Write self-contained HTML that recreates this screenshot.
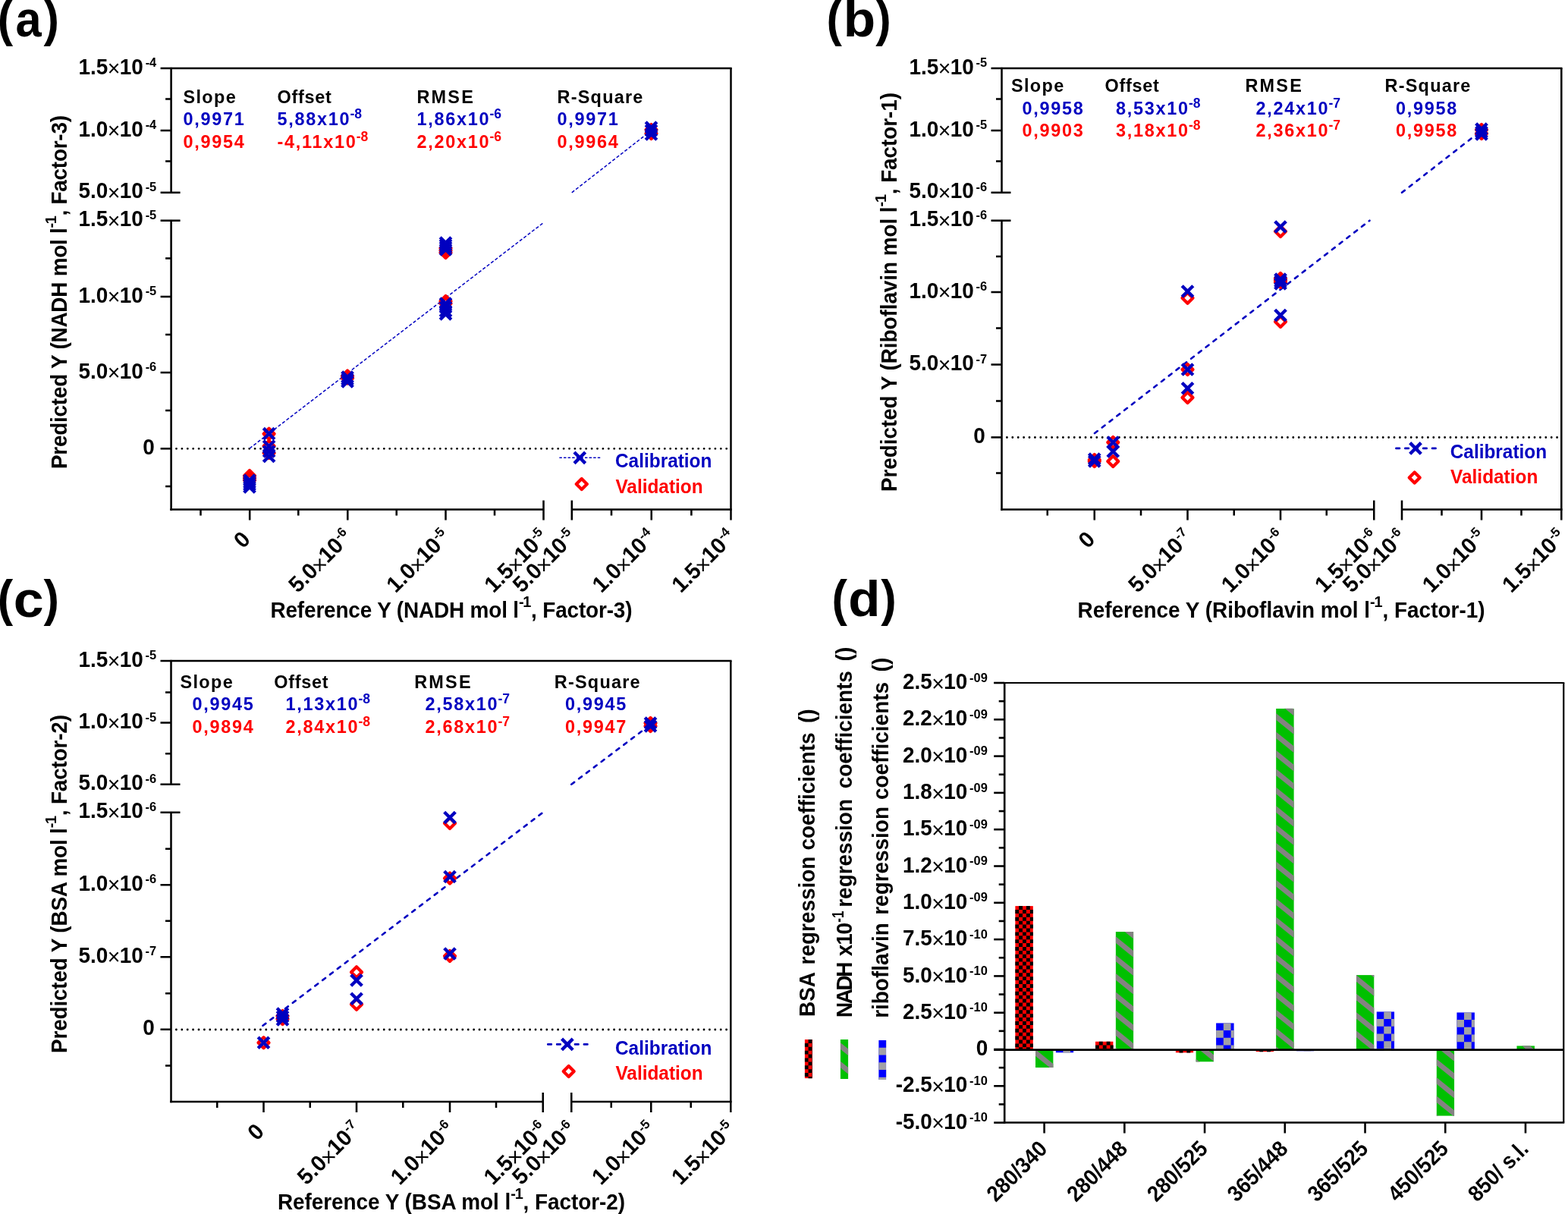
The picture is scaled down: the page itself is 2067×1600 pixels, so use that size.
<!DOCTYPE html><html><head><meta charset="utf-8"><title>PLS regression figure</title><style>html,body{margin:0;padding:0;background:#fff}svg{display:block}text{font-family:'Liberation Sans', Arial, sans-serif;font-weight:bold}</style></head><body>
<svg width="2067" height="1600" viewBox="0 0 2067 1600">
<rect width="2067" height="1600" fill="#fff"/>
<line x1="225.60" y1="672.77" x2="225.60" y2="290.70" stroke="#000" stroke-width="2.55" />
<line x1="225.60" y1="253.80" x2="225.60" y2="88.85" stroke="#000" stroke-width="2.55" />
<line x1="224.32" y1="671.50" x2="716.50" y2="671.50" stroke="#000" stroke-width="2.55" />
<line x1="753.80" y1="671.50" x2="964.75" y2="671.50" stroke="#000" stroke-width="2.55" />
<line x1="211.60" y1="90.10" x2="964.75" y2="90.10" stroke="#000" stroke-width="2.5" />
<line x1="963.50" y1="90.10" x2="963.50" y2="685.50" stroke="#000" stroke-width="2.5" />
<line x1="211.60" y1="290.70" x2="237.60" y2="290.70" stroke="#000" stroke-width="2.55" />
<line x1="211.60" y1="253.80" x2="237.60" y2="253.80" stroke="#000" stroke-width="2.55" />
<line x1="716.50" y1="659.50" x2="716.50" y2="685.50" stroke="#000" stroke-width="2.55" />
<line x1="753.80" y1="659.50" x2="753.80" y2="685.50" stroke="#000" stroke-width="2.55" />
<line x1="211.60" y1="172.00" x2="225.60" y2="172.00" stroke="#000" stroke-width="2.55" />
<line x1="211.60" y1="391.00" x2="225.60" y2="391.00" stroke="#000" stroke-width="2.55" />
<line x1="211.60" y1="491.00" x2="225.60" y2="491.00" stroke="#000" stroke-width="2.55" />
<line x1="211.60" y1="591.30" x2="225.60" y2="591.30" stroke="#000" stroke-width="2.55" />
<line x1="218.10" y1="130.50" x2="225.60" y2="130.50" stroke="#000" stroke-width="2.55" />
<line x1="218.10" y1="212.50" x2="225.60" y2="212.50" stroke="#000" stroke-width="2.55" />
<line x1="218.10" y1="340.50" x2="225.60" y2="340.50" stroke="#000" stroke-width="2.55" />
<line x1="218.10" y1="441.00" x2="225.60" y2="441.00" stroke="#000" stroke-width="2.55" />
<line x1="218.10" y1="541.00" x2="225.60" y2="541.00" stroke="#000" stroke-width="2.55" />
<line x1="218.10" y1="641.00" x2="225.60" y2="641.00" stroke="#000" stroke-width="2.55" />
<line x1="329.20" y1="671.50" x2="329.20" y2="685.50" stroke="#000" stroke-width="2.55" />
<line x1="458.30" y1="671.50" x2="458.30" y2="685.50" stroke="#000" stroke-width="2.55" />
<line x1="587.50" y1="671.50" x2="587.50" y2="685.50" stroke="#000" stroke-width="2.55" />
<line x1="858.75" y1="671.50" x2="858.75" y2="685.50" stroke="#000" stroke-width="2.55" />
<line x1="264.50" y1="671.50" x2="264.50" y2="679.50" stroke="#000" stroke-width="2.55" />
<line x1="393.30" y1="671.50" x2="393.30" y2="679.50" stroke="#000" stroke-width="2.55" />
<line x1="522.70" y1="671.50" x2="522.70" y2="679.50" stroke="#000" stroke-width="2.55" />
<line x1="652.00" y1="671.50" x2="652.00" y2="679.50" stroke="#000" stroke-width="2.55" />
<line x1="806.00" y1="671.50" x2="806.00" y2="679.50" stroke="#000" stroke-width="2.55" />
<line x1="911.40" y1="671.50" x2="911.40" y2="679.50" stroke="#000" stroke-width="2.55" />
<text transform="translate(206.25,97.70) scale(0.95,1)" font-size="29.4" text-anchor="end"><tspan>1.5</tspan><tspan font-weight="normal" font-size="30" dx="-0.6" dy="2.6">×</tspan><tspan dx="-0.6" dy="-2.6">10</tspan><tspan font-size="17.3" dy="-9.5" dx="2.9">-4</tspan></text>
<text transform="translate(206.25,179.60) scale(0.95,1)" font-size="29.4" text-anchor="end"><tspan>1.0</tspan><tspan font-weight="normal" font-size="30" dx="-0.6" dy="2.6">×</tspan><tspan dx="-0.6" dy="-2.6">10</tspan><tspan font-size="17.3" dy="-9.5" dx="2.9">-4</tspan></text>
<text transform="translate(206.25,261.40) scale(0.95,1)" font-size="29.4" text-anchor="end"><tspan>5.0</tspan><tspan font-weight="normal" font-size="30" dx="-0.6" dy="2.6">×</tspan><tspan dx="-0.6" dy="-2.6">10</tspan><tspan font-size="17.3" dy="-9.5" dx="2.9">-5</tspan></text>
<text transform="translate(206.25,298.30) scale(0.95,1)" font-size="29.4" text-anchor="end"><tspan>1.5</tspan><tspan font-weight="normal" font-size="30" dx="-0.6" dy="2.6">×</tspan><tspan dx="-0.6" dy="-2.6">10</tspan><tspan font-size="17.3" dy="-9.5" dx="2.9">-5</tspan></text>
<text transform="translate(206.25,398.60) scale(0.95,1)" font-size="29.4" text-anchor="end"><tspan>1.0</tspan><tspan font-weight="normal" font-size="30" dx="-0.6" dy="2.6">×</tspan><tspan dx="-0.6" dy="-2.6">10</tspan><tspan font-size="17.3" dy="-9.5" dx="2.9">-5</tspan></text>
<text transform="translate(206.25,498.60) scale(0.95,1)" font-size="29.4" text-anchor="end"><tspan>5.0</tspan><tspan font-weight="normal" font-size="30" dx="-0.6" dy="2.6">×</tspan><tspan dx="-0.6" dy="-2.6">10</tspan><tspan font-size="17.3" dy="-9.5" dx="2.9">-6</tspan></text>
<text transform="translate(203.75,598.60) scale(0.95,1)" font-size="29.4" text-anchor="end"><tspan>0</tspan></text>
<text transform="translate(331.70,712.50) rotate(-45) scale(0.985,1)" font-size="29.4" text-anchor="end"><tspan>0</tspan></text>
<text transform="translate(465.50,709.50) rotate(-45) scale(0.985,1)" font-size="29.4" text-anchor="end"><tspan>5.0</tspan><tspan font-weight="normal" font-size="30" dx="-1.5" dy="3.7">×</tspan><tspan dx="-0.5" dy="-3.7">10</tspan><tspan font-size="17.3" dy="-10.6" dx="0.5">-6</tspan></text>
<text transform="translate(594.70,709.50) rotate(-45) scale(0.985,1)" font-size="29.4" text-anchor="end"><tspan>1.0</tspan><tspan font-weight="normal" font-size="30" dx="-1.5" dy="3.7">×</tspan><tspan dx="-0.5" dy="-3.7">10</tspan><tspan font-size="17.3" dy="-10.6" dx="0.5">-5</tspan></text>
<text transform="translate(723.70,709.50) rotate(-45) scale(0.985,1)" font-size="29.4" text-anchor="end"><tspan>1.5</tspan><tspan font-weight="normal" font-size="30" dx="-1.5" dy="3.7">×</tspan><tspan dx="-0.5" dy="-3.7">10</tspan><tspan font-size="17.3" dy="-10.6" dx="0.5">-5</tspan></text>
<text transform="translate(761.00,709.50) rotate(-45) scale(0.985,1)" font-size="29.4" text-anchor="end"><tspan>5.0</tspan><tspan font-weight="normal" font-size="30" dx="-1.5" dy="3.7">×</tspan><tspan dx="-0.5" dy="-3.7">10</tspan><tspan font-size="17.3" dy="-10.6" dx="0.5">-5</tspan></text>
<text transform="translate(865.95,709.50) rotate(-45) scale(0.985,1)" font-size="29.4" text-anchor="end"><tspan>1.0</tspan><tspan font-weight="normal" font-size="30" dx="-1.5" dy="3.7">×</tspan><tspan dx="-0.5" dy="-3.7">10</tspan><tspan font-size="17.3" dy="-10.6" dx="0.5">-4</tspan></text>
<text transform="translate(970.70,709.50) rotate(-45) scale(0.985,1)" font-size="29.4" text-anchor="end"><tspan>1.5</tspan><tspan font-weight="normal" font-size="30" dx="-1.5" dy="3.7">×</tspan><tspan dx="-0.5" dy="-3.7">10</tspan><tspan font-size="17.3" dy="-10.6" dx="0.5">-4</tspan></text>
<line x1="232.50" y1="591.30" x2="960.50" y2="591.30" stroke="#000" stroke-width="2.85" stroke-dasharray="0.01 7.39" stroke-linecap="round"/>
<line x1="329.00" y1="591.00" x2="716.50" y2="293.50" stroke="#0000c0" stroke-width="1.5" stroke-dasharray="4.2 2.6" />
<line x1="753.80" y1="253.80" x2="858.50" y2="172.00" stroke="#0000c0" stroke-width="1.5" stroke-dasharray="4.2 2.6" />
<path d="M329.00 620.00L336.00 627.00L329.00 634.00L322.00 627.00Z" stroke="#ff0000" stroke-width="4.2" fill="none" stroke-linejoin="round"/>
<path d="M329.00 623.00L336.00 630.00L329.00 637.00L322.00 630.00Z" stroke="#ff0000" stroke-width="4.2" fill="none" stroke-linejoin="round"/>
<path d="M329.00 626.00L336.00 633.00L329.00 640.00L322.00 633.00Z" stroke="#ff0000" stroke-width="4.2" fill="none" stroke-linejoin="round"/>
<path d="M354.60 564.70L361.60 571.70L354.60 578.70L347.60 571.70Z" stroke="#ff0000" stroke-width="4.2" fill="none" stroke-linejoin="round"/>
<path d="M354.60 581.00L361.60 588.00L354.60 595.00L347.60 588.00Z" stroke="#ff0000" stroke-width="4.2" fill="none" stroke-linejoin="round"/>
<path d="M354.60 590.00L361.60 597.00L354.60 604.00L347.60 597.00Z" stroke="#ff0000" stroke-width="4.2" fill="none" stroke-linejoin="round"/>
<path d="M458.00 488.50L465.00 495.50L458.00 502.50L451.00 495.50Z" stroke="#ff0000" stroke-width="4.2" fill="none" stroke-linejoin="round"/>
<path d="M458.00 491.50L465.00 498.50L458.00 505.50L451.00 498.50Z" stroke="#ff0000" stroke-width="4.2" fill="none" stroke-linejoin="round"/>
<path d="M587.50 320.00L594.50 327.00L587.50 334.00L580.50 327.00Z" stroke="#ff0000" stroke-width="4.2" fill="none" stroke-linejoin="round"/>
<path d="M587.50 323.00L594.50 330.00L587.50 337.00L580.50 330.00Z" stroke="#ff0000" stroke-width="4.2" fill="none" stroke-linejoin="round"/>
<path d="M587.50 326.00L594.50 333.00L587.50 340.00L580.50 333.00Z" stroke="#ff0000" stroke-width="4.2" fill="none" stroke-linejoin="round"/>
<path d="M587.50 390.00L594.50 397.00L587.50 404.00L580.50 397.00Z" stroke="#ff0000" stroke-width="4.2" fill="none" stroke-linejoin="round"/>
<path d="M587.50 393.00L594.50 400.00L587.50 407.00L580.50 400.00Z" stroke="#ff0000" stroke-width="4.2" fill="none" stroke-linejoin="round"/>
<path d="M858.50 164.00L865.50 171.00L858.50 178.00L851.50 171.00Z" stroke="#ff0000" stroke-width="4.2" fill="none" stroke-linejoin="round"/>
<path d="M858.50 169.00L865.50 176.00L858.50 183.00L851.50 176.00Z" stroke="#ff0000" stroke-width="4.2" fill="none" stroke-linejoin="round"/>
<path d="M321.70 625.70L336.30 640.30M321.70 640.30L336.30 625.70" stroke="#0000c0" stroke-width="4.4" fill="none"/>
<path d="M321.70 628.70L336.30 643.30M321.70 643.30L336.30 628.70" stroke="#0000c0" stroke-width="4.4" fill="none"/>
<path d="M321.70 631.70L336.30 646.30M321.70 646.30L336.30 631.70" stroke="#0000c0" stroke-width="4.4" fill="none"/>
<path d="M321.70 634.70L336.30 649.30M321.70 649.30L336.30 634.70" stroke="#0000c0" stroke-width="4.4" fill="none"/>
<path d="M347.30 564.40L361.90 579.00M347.30 579.00L361.90 564.40" stroke="#0000c0" stroke-width="4.4" fill="none"/>
<path d="M347.30 580.70L361.90 595.30M347.30 595.30L361.90 580.70" stroke="#0000c0" stroke-width="4.4" fill="none"/>
<path d="M347.30 587.70L361.90 602.30M347.30 602.30L361.90 587.70" stroke="#0000c0" stroke-width="4.4" fill="none"/>
<path d="M347.30 594.20L361.90 608.80M347.30 608.80L361.90 594.20" stroke="#0000c0" stroke-width="4.4" fill="none"/>
<path d="M450.70 489.70L465.30 504.30M450.70 504.30L465.30 489.70" stroke="#0000c0" stroke-width="4.4" fill="none"/>
<path d="M450.70 492.70L465.30 507.30M450.70 507.30L465.30 492.70" stroke="#0000c0" stroke-width="4.4" fill="none"/>
<path d="M450.70 495.70L465.30 510.30M450.70 510.30L465.30 495.70" stroke="#0000c0" stroke-width="4.4" fill="none"/>
<path d="M580.20 312.70L594.80 327.30M580.20 327.30L594.80 312.70" stroke="#0000c0" stroke-width="4.4" fill="none"/>
<path d="M580.20 315.70L594.80 330.30M580.20 330.30L594.80 315.70" stroke="#0000c0" stroke-width="4.4" fill="none"/>
<path d="M580.20 318.70L594.80 333.30M580.20 333.30L594.80 318.70" stroke="#0000c0" stroke-width="4.4" fill="none"/>
<path d="M580.20 321.70L594.80 336.30M580.20 336.30L594.80 321.70" stroke="#0000c0" stroke-width="4.4" fill="none"/>
<path d="M580.20 392.70L594.80 407.30M580.20 407.30L594.80 392.70" stroke="#0000c0" stroke-width="4.4" fill="none"/>
<path d="M580.20 397.70L594.80 412.30M580.20 412.30L594.80 397.70" stroke="#0000c0" stroke-width="4.4" fill="none"/>
<path d="M580.20 402.70L594.80 417.30M580.20 417.30L594.80 402.70" stroke="#0000c0" stroke-width="4.4" fill="none"/>
<path d="M580.20 406.70L594.80 421.30M580.20 421.30L594.80 406.70" stroke="#0000c0" stroke-width="4.4" fill="none"/>
<path d="M851.20 160.70L865.80 175.30M851.20 175.30L865.80 160.70" stroke="#0000c0" stroke-width="4.4" fill="none"/>
<path d="M851.20 164.70L865.80 179.30M851.20 179.30L865.80 164.70" stroke="#0000c0" stroke-width="4.4" fill="none"/>
<path d="M851.20 169.70L865.80 184.30M851.20 184.30L865.80 169.70" stroke="#0000c0" stroke-width="4.4" fill="none"/>
<text transform="translate(241.50,135.50) scale(0.95,1)" font-size="24.7" fill="#000" text-anchor="start" letter-spacing="1.4">Slope</text>
<text transform="translate(365.50,135.50) scale(0.95,1)" font-size="24.7" fill="#000" text-anchor="start" letter-spacing="0.75">Offset</text>
<text transform="translate(549.50,135.50) scale(0.95,1)" font-size="24.7" fill="#000" text-anchor="start" letter-spacing="2.3">RMSE</text>
<text transform="translate(734.50,135.50) scale(0.95,1)" font-size="24.7" fill="#000" text-anchor="start" letter-spacing="1.3">R-Square</text>
<text transform="translate(241.50,165.00) scale(0.95,1)" font-size="24.7" fill="#0000c0" text-anchor="start" letter-spacing="1.8">0,9971</text>
<text transform="translate(365.50,165.00) scale(0.95,1)" font-size="24.7" fill="#0000c0" text-anchor="start" letter-spacing="1.8">5,88x10<tspan font-size="18.5" dy="-8.8" dx="-0.8" letter-spacing="0">-8</tspan></text>
<text transform="translate(549.50,165.00) scale(0.95,1)" font-size="24.7" fill="#0000c0" text-anchor="start" letter-spacing="1.8">1,86x10<tspan font-size="18.5" dy="-8.8" dx="-0.8" letter-spacing="0">-6</tspan></text>
<text transform="translate(734.50,165.00) scale(0.95,1)" font-size="24.7" fill="#0000c0" text-anchor="start" letter-spacing="1.8">0,9971</text>
<text transform="translate(241.50,194.50) scale(0.95,1)" font-size="24.7" fill="#ff0000" text-anchor="start" letter-spacing="1.8">0,9954</text>
<text transform="translate(365.50,194.50) scale(0.95,1)" font-size="24.7" fill="#ff0000" text-anchor="start" letter-spacing="1.8">-4,11x10<tspan font-size="18.5" dy="-8.8" dx="-0.8" letter-spacing="0">-8</tspan></text>
<text transform="translate(549.50,194.50) scale(0.95,1)" font-size="24.7" fill="#ff0000" text-anchor="start" letter-spacing="1.8">2,20x10<tspan font-size="18.5" dy="-8.8" dx="-0.8" letter-spacing="0">-6</tspan></text>
<text transform="translate(734.50,194.50) scale(0.95,1)" font-size="24.7" fill="#ff0000" text-anchor="start" letter-spacing="1.8">0,9964</text>
<line x1="737.40" y1="603.30" x2="791.20" y2="603.30" stroke="#0000c0" stroke-width="1.5" stroke-dasharray="3.4 2.2" />
<path d="M757.00 596.00L771.60 610.60M757.00 610.60L771.60 596.00" stroke="#0000c0" stroke-width="4.4" fill="none"/>
<path d="M766.80 630.90L773.80 637.90L766.80 644.90L759.80 637.90Z" stroke="#ff0000" stroke-width="4.2" fill="none" stroke-linejoin="round"/>
<text transform="translate(811.00,615.85) scale(0.95,1)" font-size="25.7" fill="#0000c0" text-anchor="start" >Calibration</text>
<text transform="translate(811.40,649.50) scale(0.95,1)" font-size="25.7" fill="#ff0000" text-anchor="start" >Validation</text>
<text transform="translate(87.50,618.00) rotate(-90) scale(0.95,1)" font-size="29.4" textLength="490.5" lengthAdjust="spacing">Predicted Y (NADH mol l<tspan font-size="21" dy="-13.4" letter-spacing="-1.2">-1</tspan><tspan dy="13.4" dx="1">, </tspan>Factor-3)</text>
<text transform="translate(356.50,813.50) scale(0.95,1)" font-size="29.4" fill="#000" text-anchor="start" textLength="502.1" lengthAdjust="spacing">Reference Y (NADH mol l<tspan font-size="21" dy="-13.4" letter-spacing="-1.2">-1</tspan><tspan dy="13.4" dx="1">, </tspan>Factor-3)</text>
<text transform="translate(-3.20,46.90) scale(0.93,1)" font-size="66">(</text>
<text transform="translate(37.45,48.40) scale(0.93,1)" font-size="66" text-anchor="middle">a</text>
<text transform="translate(57.40,46.90) scale(0.93,1)" font-size="66">)</text>
<line x1="1320.50" y1="672.77" x2="1320.50" y2="290.70" stroke="#000" stroke-width="2.55" />
<line x1="1320.50" y1="253.80" x2="1320.50" y2="88.85" stroke="#000" stroke-width="2.55" />
<line x1="1319.22" y1="671.50" x2="1811.25" y2="671.50" stroke="#000" stroke-width="2.55" />
<line x1="1848.00" y1="671.50" x2="2059.55" y2="671.50" stroke="#000" stroke-width="2.55" />
<line x1="1306.50" y1="90.10" x2="2059.55" y2="90.10" stroke="#000" stroke-width="2.5" />
<line x1="2058.30" y1="90.10" x2="2058.30" y2="685.50" stroke="#000" stroke-width="2.5" />
<line x1="1306.50" y1="290.70" x2="1332.50" y2="290.70" stroke="#000" stroke-width="2.55" />
<line x1="1306.50" y1="253.80" x2="1332.50" y2="253.80" stroke="#000" stroke-width="2.55" />
<line x1="1811.25" y1="659.50" x2="1811.25" y2="685.50" stroke="#000" stroke-width="2.55" />
<line x1="1848.00" y1="659.50" x2="1848.00" y2="685.50" stroke="#000" stroke-width="2.55" />
<line x1="1306.50" y1="172.00" x2="1320.50" y2="172.00" stroke="#000" stroke-width="2.55" />
<line x1="1306.50" y1="385.00" x2="1320.50" y2="385.00" stroke="#000" stroke-width="2.55" />
<line x1="1306.50" y1="480.50" x2="1320.50" y2="480.50" stroke="#000" stroke-width="2.55" />
<line x1="1306.50" y1="576.40" x2="1320.50" y2="576.40" stroke="#000" stroke-width="2.55" />
<line x1="1313.00" y1="130.50" x2="1320.50" y2="130.50" stroke="#000" stroke-width="2.55" />
<line x1="1313.00" y1="212.50" x2="1320.50" y2="212.50" stroke="#000" stroke-width="2.55" />
<line x1="1313.00" y1="338.00" x2="1320.50" y2="338.00" stroke="#000" stroke-width="2.55" />
<line x1="1313.00" y1="432.50" x2="1320.50" y2="432.50" stroke="#000" stroke-width="2.55" />
<line x1="1313.00" y1="528.50" x2="1320.50" y2="528.50" stroke="#000" stroke-width="2.55" />
<line x1="1313.00" y1="623.50" x2="1320.50" y2="623.50" stroke="#000" stroke-width="2.55" />
<line x1="1442.75" y1="671.50" x2="1442.75" y2="685.50" stroke="#000" stroke-width="2.55" />
<line x1="1565.50" y1="671.50" x2="1565.50" y2="685.50" stroke="#000" stroke-width="2.55" />
<line x1="1688.00" y1="671.50" x2="1688.00" y2="685.50" stroke="#000" stroke-width="2.55" />
<line x1="1953.00" y1="671.50" x2="1953.00" y2="685.50" stroke="#000" stroke-width="2.55" />
<line x1="1380.75" y1="671.50" x2="1380.75" y2="679.50" stroke="#000" stroke-width="2.55" />
<line x1="1504.00" y1="671.50" x2="1504.00" y2="679.50" stroke="#000" stroke-width="2.55" />
<line x1="1626.75" y1="671.50" x2="1626.75" y2="679.50" stroke="#000" stroke-width="2.55" />
<line x1="1748.75" y1="671.50" x2="1748.75" y2="679.50" stroke="#000" stroke-width="2.55" />
<line x1="1900.50" y1="671.50" x2="1900.50" y2="679.50" stroke="#000" stroke-width="2.55" />
<line x1="2005.50" y1="671.50" x2="2005.50" y2="679.50" stroke="#000" stroke-width="2.55" />
<text transform="translate(1301.15,97.70) scale(0.95,1)" font-size="29.4" text-anchor="end"><tspan>1.5</tspan><tspan font-weight="normal" font-size="30" dx="-0.6" dy="2.6">×</tspan><tspan dx="-0.6" dy="-2.6">10</tspan><tspan font-size="17.3" dy="-9.5" dx="2.9">-5</tspan></text>
<text transform="translate(1301.15,179.60) scale(0.95,1)" font-size="29.4" text-anchor="end"><tspan>1.0</tspan><tspan font-weight="normal" font-size="30" dx="-0.6" dy="2.6">×</tspan><tspan dx="-0.6" dy="-2.6">10</tspan><tspan font-size="17.3" dy="-9.5" dx="2.9">-5</tspan></text>
<text transform="translate(1301.15,261.40) scale(0.95,1)" font-size="29.4" text-anchor="end"><tspan>5.0</tspan><tspan font-weight="normal" font-size="30" dx="-0.6" dy="2.6">×</tspan><tspan dx="-0.6" dy="-2.6">10</tspan><tspan font-size="17.3" dy="-9.5" dx="2.9">-6</tspan></text>
<text transform="translate(1301.15,298.30) scale(0.95,1)" font-size="29.4" text-anchor="end"><tspan>1.5</tspan><tspan font-weight="normal" font-size="30" dx="-0.6" dy="2.6">×</tspan><tspan dx="-0.6" dy="-2.6">10</tspan><tspan font-size="17.3" dy="-9.5" dx="2.9">-6</tspan></text>
<text transform="translate(1301.15,392.60) scale(0.95,1)" font-size="29.4" text-anchor="end"><tspan>1.0</tspan><tspan font-weight="normal" font-size="30" dx="-0.6" dy="2.6">×</tspan><tspan dx="-0.6" dy="-2.6">10</tspan><tspan font-size="17.3" dy="-9.5" dx="2.9">-6</tspan></text>
<text transform="translate(1301.15,488.10) scale(0.95,1)" font-size="29.4" text-anchor="end"><tspan>5.0</tspan><tspan font-weight="normal" font-size="30" dx="-0.6" dy="2.6">×</tspan><tspan dx="-0.6" dy="-2.6">10</tspan><tspan font-size="17.3" dy="-9.5" dx="2.9">-7</tspan></text>
<text transform="translate(1298.65,583.85) scale(0.95,1)" font-size="29.4" text-anchor="end"><tspan>0</tspan></text>
<text transform="translate(1445.25,712.50) rotate(-45) scale(0.985,1)" font-size="29.4" text-anchor="end"><tspan>0</tspan></text>
<text transform="translate(1572.70,709.50) rotate(-45) scale(0.985,1)" font-size="29.4" text-anchor="end"><tspan>5.0</tspan><tspan font-weight="normal" font-size="30" dx="-1.5" dy="3.7">×</tspan><tspan dx="-0.5" dy="-3.7">10</tspan><tspan font-size="17.3" dy="-10.6" dx="0.5">-7</tspan></text>
<text transform="translate(1695.20,709.50) rotate(-45) scale(0.985,1)" font-size="29.4" text-anchor="end"><tspan>1.0</tspan><tspan font-weight="normal" font-size="30" dx="-1.5" dy="3.7">×</tspan><tspan dx="-0.5" dy="-3.7">10</tspan><tspan font-size="17.3" dy="-10.6" dx="0.5">-6</tspan></text>
<text transform="translate(1818.45,709.50) rotate(-45) scale(0.985,1)" font-size="29.4" text-anchor="end"><tspan>1.5</tspan><tspan font-weight="normal" font-size="30" dx="-1.5" dy="3.7">×</tspan><tspan dx="-0.5" dy="-3.7">10</tspan><tspan font-size="17.3" dy="-10.6" dx="0.5">-6</tspan></text>
<text transform="translate(1855.20,709.50) rotate(-45) scale(0.985,1)" font-size="29.4" text-anchor="end"><tspan>5.0</tspan><tspan font-weight="normal" font-size="30" dx="-1.5" dy="3.7">×</tspan><tspan dx="-0.5" dy="-3.7">10</tspan><tspan font-size="17.3" dy="-10.6" dx="0.5">-6</tspan></text>
<text transform="translate(1960.20,709.50) rotate(-45) scale(0.985,1)" font-size="29.4" text-anchor="end"><tspan>1.0</tspan><tspan font-weight="normal" font-size="30" dx="-1.5" dy="3.7">×</tspan><tspan dx="-0.5" dy="-3.7">10</tspan><tspan font-size="17.3" dy="-10.6" dx="0.5">-5</tspan></text>
<text transform="translate(2065.45,709.50) rotate(-45) scale(0.985,1)" font-size="29.4" text-anchor="end"><tspan>1.5</tspan><tspan font-weight="normal" font-size="30" dx="-1.5" dy="3.7">×</tspan><tspan dx="-0.5" dy="-3.7">10</tspan><tspan font-size="17.3" dy="-10.6" dx="0.5">-5</tspan></text>
<line x1="1327.40" y1="576.50" x2="2055.30" y2="576.50" stroke="#000" stroke-width="2.85" stroke-dasharray="0.01 7.39" stroke-linecap="round"/>
<line x1="1443.00" y1="571.00" x2="1805.50" y2="290.70" stroke="#0000c0" stroke-width="2.6" stroke-dasharray="4.8 7.56" stroke-linecap="round"/>
<line x1="1848.00" y1="253.80" x2="1953.00" y2="172.00" stroke="#0000c0" stroke-width="2.6" stroke-dasharray="4.8 7.56" stroke-linecap="round"/>
<path d="M1442.75 599.00L1449.75 606.00L1442.75 613.00L1435.75 606.00Z" stroke="#ff0000" stroke-width="4.2" fill="none" stroke-linejoin="round"/>
<path d="M1442.75 601.00L1449.75 608.00L1442.75 615.00L1435.75 608.00Z" stroke="#ff0000" stroke-width="4.2" fill="none" stroke-linejoin="round"/>
<path d="M1467.25 576.00L1474.25 583.00L1467.25 590.00L1460.25 583.00Z" stroke="#ff0000" stroke-width="4.2" fill="none" stroke-linejoin="round"/>
<path d="M1467.25 601.00L1474.25 608.00L1467.25 615.00L1460.25 608.00Z" stroke="#ff0000" stroke-width="4.2" fill="none" stroke-linejoin="round"/>
<path d="M1565.50 385.70L1572.50 392.70L1565.50 399.70L1558.50 392.70Z" stroke="#ff0000" stroke-width="4.2" fill="none" stroke-linejoin="round"/>
<path d="M1565.50 480.00L1572.50 487.00L1565.50 494.00L1558.50 487.00Z" stroke="#ff0000" stroke-width="4.2" fill="none" stroke-linejoin="round"/>
<path d="M1565.50 517.00L1572.50 524.00L1565.50 531.00L1558.50 524.00Z" stroke="#ff0000" stroke-width="4.2" fill="none" stroke-linejoin="round"/>
<path d="M1688.00 417.00L1695.00 424.00L1688.00 431.00L1681.00 424.00Z" stroke="#ff0000" stroke-width="4.2" fill="none" stroke-linejoin="round"/>
<path d="M1688.00 360.00L1695.00 367.00L1688.00 374.00L1681.00 367.00Z" stroke="#ff0000" stroke-width="4.2" fill="none" stroke-linejoin="round"/>
<path d="M1688.00 362.50L1695.00 369.50L1688.00 376.50L1681.00 369.50Z" stroke="#ff0000" stroke-width="4.2" fill="none" stroke-linejoin="round"/>
<path d="M1688.00 365.00L1695.00 372.00L1688.00 379.00L1681.00 372.00Z" stroke="#ff0000" stroke-width="4.2" fill="none" stroke-linejoin="round"/>
<path d="M1688.00 298.00L1695.00 305.00L1688.00 312.00L1681.00 305.00Z" stroke="#ff0000" stroke-width="4.2" fill="none" stroke-linejoin="round"/>
<path d="M1953.00 164.00L1960.00 171.00L1953.00 178.00L1946.00 171.00Z" stroke="#ff0000" stroke-width="4.2" fill="none" stroke-linejoin="round"/>
<path d="M1953.00 169.00L1960.00 176.00L1953.00 183.00L1946.00 176.00Z" stroke="#ff0000" stroke-width="4.2" fill="none" stroke-linejoin="round"/>
<path d="M1435.45 597.70L1450.05 612.30M1435.45 612.30L1450.05 597.70" stroke="#0000c0" stroke-width="4.4" fill="none"/>
<path d="M1435.45 600.70L1450.05 615.30M1435.45 615.30L1450.05 600.70" stroke="#0000c0" stroke-width="4.4" fill="none"/>
<path d="M1459.95 575.70L1474.55 590.30M1459.95 590.30L1474.55 575.70" stroke="#0000c0" stroke-width="4.4" fill="none"/>
<path d="M1459.95 587.70L1474.55 602.30M1459.95 602.30L1474.55 587.70" stroke="#0000c0" stroke-width="4.4" fill="none"/>
<path d="M1558.20 479.70L1572.80 494.30M1558.20 494.30L1572.80 479.70" stroke="#0000c0" stroke-width="4.4" fill="none"/>
<path d="M1558.20 504.45L1572.80 519.05M1558.20 519.05L1572.80 504.45" stroke="#0000c0" stroke-width="4.4" fill="none"/>
<path d="M1558.20 376.70L1572.80 391.30M1558.20 391.30L1572.80 376.70" stroke="#0000c0" stroke-width="4.4" fill="none"/>
<path d="M1680.70 408.20L1695.30 422.80M1680.70 422.80L1695.30 408.20" stroke="#0000c0" stroke-width="4.4" fill="none"/>
<path d="M1680.70 360.70L1695.30 375.30M1680.70 375.30L1695.30 360.70" stroke="#0000c0" stroke-width="4.4" fill="none"/>
<path d="M1680.70 363.70L1695.30 378.30M1680.70 378.30L1695.30 363.70" stroke="#0000c0" stroke-width="4.4" fill="none"/>
<path d="M1680.70 366.70L1695.30 381.30M1680.70 381.30L1695.30 366.70" stroke="#0000c0" stroke-width="4.4" fill="none"/>
<path d="M1680.70 291.70L1695.30 306.30M1680.70 306.30L1695.30 291.70" stroke="#0000c0" stroke-width="4.4" fill="none"/>
<path d="M1945.70 162.70L1960.30 177.30M1945.70 177.30L1960.30 162.70" stroke="#0000c0" stroke-width="4.4" fill="none"/>
<path d="M1945.70 166.70L1960.30 181.30M1945.70 181.30L1960.30 166.70" stroke="#0000c0" stroke-width="4.4" fill="none"/>
<path d="M1945.70 169.70L1960.30 184.30M1945.70 184.30L1960.30 169.70" stroke="#0000c0" stroke-width="4.4" fill="none"/>
<text transform="translate(1333.00,121.00) scale(0.95,1)" font-size="24.7" fill="#000" text-anchor="start" letter-spacing="1.4">Slope</text>
<text transform="translate(1456.50,121.00) scale(0.95,1)" font-size="24.7" fill="#000" text-anchor="start" letter-spacing="0.75">Offset</text>
<text transform="translate(1641.50,121.00) scale(0.95,1)" font-size="24.7" fill="#000" text-anchor="start" letter-spacing="2.3">RMSE</text>
<text transform="translate(1825.50,121.00) scale(0.95,1)" font-size="24.7" fill="#000" text-anchor="start" letter-spacing="1.3">R-Square</text>
<text transform="translate(1347.50,150.50) scale(0.95,1)" font-size="24.7" fill="#0000c0" text-anchor="start" letter-spacing="1.8">0,9958</text>
<text transform="translate(1471.00,150.50) scale(0.95,1)" font-size="24.7" fill="#0000c0" text-anchor="start" letter-spacing="1.8">8,53x10<tspan font-size="18.5" dy="-8.8" dx="-0.8" letter-spacing="0">-8</tspan></text>
<text transform="translate(1655.50,150.50) scale(0.95,1)" font-size="24.7" fill="#0000c0" text-anchor="start" letter-spacing="1.8">2,24x10<tspan font-size="18.5" dy="-8.8" dx="-0.8" letter-spacing="0">-7</tspan></text>
<text transform="translate(1840.00,150.50) scale(0.95,1)" font-size="24.7" fill="#0000c0" text-anchor="start" letter-spacing="1.8">0,9958</text>
<text transform="translate(1347.50,180.00) scale(0.95,1)" font-size="24.7" fill="#ff0000" text-anchor="start" letter-spacing="1.8">0,9903</text>
<text transform="translate(1471.00,180.00) scale(0.95,1)" font-size="24.7" fill="#ff0000" text-anchor="start" letter-spacing="1.8">3,18x10<tspan font-size="18.5" dy="-8.8" dx="-0.8" letter-spacing="0">-8</tspan></text>
<text transform="translate(1655.50,180.00) scale(0.95,1)" font-size="24.7" fill="#ff0000" text-anchor="start" letter-spacing="1.8">2,36x10<tspan font-size="18.5" dy="-8.8" dx="-0.8" letter-spacing="0">-7</tspan></text>
<text transform="translate(1840.00,180.00) scale(0.95,1)" font-size="24.7" fill="#ff0000" text-anchor="start" letter-spacing="1.8">0,9958</text>
<line x1="1840.40" y1="590.90" x2="1892.90" y2="590.90" stroke="#0000c0" stroke-width="2.6" stroke-dasharray="4.6 7.3" stroke-linecap="round"/>
<path d="M1858.70 583.60L1873.30 598.20M1858.70 598.20L1873.30 583.60" stroke="#0000c0" stroke-width="4.4" fill="none"/>
<path d="M1864.70 622.40L1871.70 629.40L1864.70 636.40L1857.70 629.40Z" stroke="#ff0000" stroke-width="4.2" fill="none" stroke-linejoin="round"/>
<text transform="translate(1911.70,603.60) scale(0.95,1)" font-size="25.7" fill="#0000c0" text-anchor="start" >Calibration</text>
<text transform="translate(1912.10,637.00) scale(0.95,1)" font-size="25.7" fill="#ff0000" text-anchor="start" >Validation</text>
<text transform="translate(1181.50,648.00) rotate(-90) scale(0.95,1)" font-size="29.4" textLength="553.7" lengthAdjust="spacing">Predicted Y (Riboflavin mol l<tspan font-size="21" dy="-13.4" letter-spacing="-1.2">-1</tspan><tspan dy="13.4" dx="1">, </tspan>Factor-1)</text>
<text transform="translate(1420.50,813.50) scale(0.95,1)" font-size="29.4" fill="#000" text-anchor="start" textLength="565.3" lengthAdjust="spacing">Reference Y (Riboflavin mol l<tspan font-size="21" dy="-13.4" letter-spacing="-1.2">-1</tspan><tspan dy="13.4" dx="1">, </tspan>Factor-1)</text>
<text transform="translate(1089.40,46.90) scale(0.93,1)" font-size="66">(</text>
<text transform="translate(1132.80,48.40) scale(1.05,1)" font-size="66" text-anchor="middle">b</text>
<text transform="translate(1154.30,46.90) scale(0.93,1)" font-size="66">)</text>
<line x1="225.50" y1="1453.28" x2="225.50" y2="1070.75" stroke="#000" stroke-width="2.55" />
<line x1="225.50" y1="1033.75" x2="225.50" y2="869.85" stroke="#000" stroke-width="2.55" />
<line x1="224.22" y1="1452.00" x2="715.75" y2="1452.00" stroke="#000" stroke-width="2.55" />
<line x1="753.25" y1="1452.00" x2="964.55" y2="1452.00" stroke="#000" stroke-width="2.55" />
<line x1="211.50" y1="871.10" x2="964.55" y2="871.10" stroke="#000" stroke-width="2.5" />
<line x1="963.30" y1="871.10" x2="963.30" y2="1466.00" stroke="#000" stroke-width="2.5" />
<line x1="211.50" y1="1070.75" x2="237.50" y2="1070.75" stroke="#000" stroke-width="2.55" />
<line x1="211.50" y1="1033.75" x2="237.50" y2="1033.75" stroke="#000" stroke-width="2.55" />
<line x1="715.75" y1="1440.00" x2="715.75" y2="1466.00" stroke="#000" stroke-width="2.55" />
<line x1="753.25" y1="1440.00" x2="753.25" y2="1466.00" stroke="#000" stroke-width="2.55" />
<line x1="211.50" y1="952.50" x2="225.50" y2="952.50" stroke="#000" stroke-width="2.55" />
<line x1="211.50" y1="1166.25" x2="225.50" y2="1166.25" stroke="#000" stroke-width="2.55" />
<line x1="211.50" y1="1261.25" x2="225.50" y2="1261.25" stroke="#000" stroke-width="2.55" />
<line x1="211.50" y1="1356.75" x2="225.50" y2="1356.75" stroke="#000" stroke-width="2.55" />
<line x1="218.00" y1="912.50" x2="225.50" y2="912.50" stroke="#000" stroke-width="2.55" />
<line x1="218.00" y1="993.25" x2="225.50" y2="993.25" stroke="#000" stroke-width="2.55" />
<line x1="218.00" y1="1118.75" x2="225.50" y2="1118.75" stroke="#000" stroke-width="2.55" />
<line x1="218.00" y1="1213.75" x2="225.50" y2="1213.75" stroke="#000" stroke-width="2.55" />
<line x1="218.00" y1="1309.25" x2="225.50" y2="1309.25" stroke="#000" stroke-width="2.55" />
<line x1="218.00" y1="1404.50" x2="225.50" y2="1404.50" stroke="#000" stroke-width="2.55" />
<line x1="347.50" y1="1452.00" x2="347.50" y2="1466.00" stroke="#000" stroke-width="2.55" />
<line x1="470.00" y1="1452.00" x2="470.00" y2="1466.00" stroke="#000" stroke-width="2.55" />
<line x1="593.00" y1="1452.00" x2="593.00" y2="1466.00" stroke="#000" stroke-width="2.55" />
<line x1="858.25" y1="1452.00" x2="858.25" y2="1466.00" stroke="#000" stroke-width="2.55" />
<line x1="286.25" y1="1452.00" x2="286.25" y2="1460.00" stroke="#000" stroke-width="2.55" />
<line x1="408.75" y1="1452.00" x2="408.75" y2="1460.00" stroke="#000" stroke-width="2.55" />
<line x1="531.25" y1="1452.00" x2="531.25" y2="1460.00" stroke="#000" stroke-width="2.55" />
<line x1="654.00" y1="1452.00" x2="654.00" y2="1460.00" stroke="#000" stroke-width="2.55" />
<line x1="805.75" y1="1452.00" x2="805.75" y2="1460.00" stroke="#000" stroke-width="2.55" />
<line x1="910.75" y1="1452.00" x2="910.75" y2="1460.00" stroke="#000" stroke-width="2.55" />
<text transform="translate(206.15,878.70) scale(0.95,1)" font-size="29.4" text-anchor="end"><tspan>1.5</tspan><tspan font-weight="normal" font-size="30" dx="-0.6" dy="2.6">×</tspan><tspan dx="-0.6" dy="-2.6">10</tspan><tspan font-size="17.3" dy="-9.5" dx="2.9">-5</tspan></text>
<text transform="translate(206.15,960.10) scale(0.95,1)" font-size="29.4" text-anchor="end"><tspan>1.0</tspan><tspan font-weight="normal" font-size="30" dx="-0.6" dy="2.6">×</tspan><tspan dx="-0.6" dy="-2.6">10</tspan><tspan font-size="17.3" dy="-9.5" dx="2.9">-5</tspan></text>
<text transform="translate(206.15,1041.35) scale(0.95,1)" font-size="29.4" text-anchor="end"><tspan>5.0</tspan><tspan font-weight="normal" font-size="30" dx="-0.6" dy="2.6">×</tspan><tspan dx="-0.6" dy="-2.6">10</tspan><tspan font-size="17.3" dy="-9.5" dx="2.9">-6</tspan></text>
<text transform="translate(206.15,1078.35) scale(0.95,1)" font-size="29.4" text-anchor="end"><tspan>1.5</tspan><tspan font-weight="normal" font-size="30" dx="-0.6" dy="2.6">×</tspan><tspan dx="-0.6" dy="-2.6">10</tspan><tspan font-size="17.3" dy="-9.5" dx="2.9">-6</tspan></text>
<text transform="translate(206.15,1173.85) scale(0.95,1)" font-size="29.4" text-anchor="end"><tspan>1.0</tspan><tspan font-weight="normal" font-size="30" dx="-0.6" dy="2.6">×</tspan><tspan dx="-0.6" dy="-2.6">10</tspan><tspan font-size="17.3" dy="-9.5" dx="2.9">-6</tspan></text>
<text transform="translate(206.15,1268.85) scale(0.95,1)" font-size="29.4" text-anchor="end"><tspan>5.0</tspan><tspan font-weight="normal" font-size="30" dx="-0.6" dy="2.6">×</tspan><tspan dx="-0.6" dy="-2.6">10</tspan><tspan font-size="17.3" dy="-9.5" dx="2.9">-7</tspan></text>
<text transform="translate(203.65,1364.35) scale(0.95,1)" font-size="29.4" text-anchor="end"><tspan>0</tspan></text>
<text transform="translate(350.00,1493.00) rotate(-45) scale(0.985,1)" font-size="29.4" text-anchor="end"><tspan>0</tspan></text>
<text transform="translate(477.20,1490.00) rotate(-45) scale(0.985,1)" font-size="29.4" text-anchor="end"><tspan>5.0</tspan><tspan font-weight="normal" font-size="30" dx="-1.5" dy="3.7">×</tspan><tspan dx="-0.5" dy="-3.7">10</tspan><tspan font-size="17.3" dy="-10.6" dx="0.5">-7</tspan></text>
<text transform="translate(600.20,1490.00) rotate(-45) scale(0.985,1)" font-size="29.4" text-anchor="end"><tspan>1.0</tspan><tspan font-weight="normal" font-size="30" dx="-1.5" dy="3.7">×</tspan><tspan dx="-0.5" dy="-3.7">10</tspan><tspan font-size="17.3" dy="-10.6" dx="0.5">-6</tspan></text>
<text transform="translate(722.95,1490.00) rotate(-45) scale(0.985,1)" font-size="29.4" text-anchor="end"><tspan>1.5</tspan><tspan font-weight="normal" font-size="30" dx="-1.5" dy="3.7">×</tspan><tspan dx="-0.5" dy="-3.7">10</tspan><tspan font-size="17.3" dy="-10.6" dx="0.5">-6</tspan></text>
<text transform="translate(760.45,1490.00) rotate(-45) scale(0.985,1)" font-size="29.4" text-anchor="end"><tspan>5.0</tspan><tspan font-weight="normal" font-size="30" dx="-1.5" dy="3.7">×</tspan><tspan dx="-0.5" dy="-3.7">10</tspan><tspan font-size="17.3" dy="-10.6" dx="0.5">-6</tspan></text>
<text transform="translate(865.45,1490.00) rotate(-45) scale(0.985,1)" font-size="29.4" text-anchor="end"><tspan>1.0</tspan><tspan font-weight="normal" font-size="30" dx="-1.5" dy="3.7">×</tspan><tspan dx="-0.5" dy="-3.7">10</tspan><tspan font-size="17.3" dy="-10.6" dx="0.5">-5</tspan></text>
<text transform="translate(970.45,1490.00) rotate(-45) scale(0.985,1)" font-size="29.4" text-anchor="end"><tspan>1.5</tspan><tspan font-weight="normal" font-size="30" dx="-1.5" dy="3.7">×</tspan><tspan dx="-0.5" dy="-3.7">10</tspan><tspan font-size="17.3" dy="-10.6" dx="0.5">-5</tspan></text>
<line x1="232.40" y1="1357.00" x2="960.30" y2="1357.00" stroke="#000" stroke-width="2.85" stroke-dasharray="0.01 7.39" stroke-linecap="round"/>
<line x1="346.50" y1="1351.75" x2="715.75" y2="1070.75" stroke="#0000c0" stroke-width="2.6" stroke-dasharray="4.8 7.56" stroke-linecap="round"/>
<line x1="753.25" y1="1033.75" x2="857.50" y2="955.00" stroke="#0000c0" stroke-width="2.6" stroke-dasharray="4.8 7.56" stroke-linecap="round"/>
<path d="M347.50 1367.25L354.50 1374.25L347.50 1381.25L340.50 1374.25Z" stroke="#ff0000" stroke-width="4.2" fill="none" stroke-linejoin="round"/>
<path d="M372.50 1332.00L379.50 1339.00L372.50 1346.00L365.50 1339.00Z" stroke="#ff0000" stroke-width="4.2" fill="none" stroke-linejoin="round"/>
<path d="M372.50 1336.00L379.50 1343.00L372.50 1350.00L365.50 1343.00Z" stroke="#ff0000" stroke-width="4.2" fill="none" stroke-linejoin="round"/>
<path d="M470.00 1274.25L477.00 1281.25L470.00 1288.25L463.00 1281.25Z" stroke="#ff0000" stroke-width="4.2" fill="none" stroke-linejoin="round"/>
<path d="M470.00 1316.75L477.00 1323.75L470.00 1330.75L463.00 1323.75Z" stroke="#ff0000" stroke-width="4.2" fill="none" stroke-linejoin="round"/>
<path d="M593.00 1078.00L600.00 1085.00L593.00 1092.00L586.00 1085.00Z" stroke="#ff0000" stroke-width="4.2" fill="none" stroke-linejoin="round"/>
<path d="M593.00 1150.50L600.00 1157.50L593.00 1164.50L586.00 1157.50Z" stroke="#ff0000" stroke-width="4.2" fill="none" stroke-linejoin="round"/>
<path d="M593.00 1253.00L600.00 1260.00L593.00 1267.00L586.00 1260.00Z" stroke="#ff0000" stroke-width="4.2" fill="none" stroke-linejoin="round"/>
<path d="M857.50 946.00L864.50 953.00L857.50 960.00L850.50 953.00Z" stroke="#ff0000" stroke-width="4.2" fill="none" stroke-linejoin="round"/>
<path d="M857.50 950.00L864.50 957.00L857.50 964.00L850.50 957.00Z" stroke="#ff0000" stroke-width="4.2" fill="none" stroke-linejoin="round"/>
<path d="M340.20 1366.95L354.80 1381.55M340.20 1381.55L354.80 1366.95" stroke="#0000c0" stroke-width="4.4" fill="none"/>
<path d="M365.20 1328.70L379.80 1343.30M365.20 1343.30L379.80 1328.70" stroke="#0000c0" stroke-width="4.4" fill="none"/>
<path d="M365.20 1332.70L379.80 1347.30M365.20 1347.30L379.80 1332.70" stroke="#0000c0" stroke-width="4.4" fill="none"/>
<path d="M365.20 1336.70L379.80 1351.30M365.20 1351.30L379.80 1336.70" stroke="#0000c0" stroke-width="4.4" fill="none"/>
<path d="M462.70 1284.70L477.30 1299.30M462.70 1299.30L477.30 1284.70" stroke="#0000c0" stroke-width="4.4" fill="none"/>
<path d="M462.70 1308.95L477.30 1323.55M462.70 1323.55L477.30 1308.95" stroke="#0000c0" stroke-width="4.4" fill="none"/>
<path d="M585.70 1070.20L600.30 1084.80M585.70 1084.80L600.30 1070.20" stroke="#0000c0" stroke-width="4.4" fill="none"/>
<path d="M585.70 1148.20L600.30 1162.80M585.70 1162.80L600.30 1148.20" stroke="#0000c0" stroke-width="4.4" fill="none"/>
<path d="M585.70 1249.70L600.30 1264.30M585.70 1264.30L600.30 1249.70" stroke="#0000c0" stroke-width="4.4" fill="none"/>
<path d="M850.20 945.70L864.80 960.30M850.20 960.30L864.80 945.70" stroke="#0000c0" stroke-width="4.4" fill="none"/>
<path d="M850.20 949.70L864.80 964.30M850.20 964.30L864.80 949.70" stroke="#0000c0" stroke-width="4.4" fill="none"/>
<text transform="translate(237.50,907.00) scale(0.95,1)" font-size="24.7" fill="#000" text-anchor="start" letter-spacing="1.4">Slope</text>
<text transform="translate(361.25,907.00) scale(0.95,1)" font-size="24.7" fill="#000" text-anchor="start" letter-spacing="0.75">Offset</text>
<text transform="translate(546.25,907.00) scale(0.95,1)" font-size="24.7" fill="#000" text-anchor="start" letter-spacing="2.3">RMSE</text>
<text transform="translate(730.75,907.00) scale(0.95,1)" font-size="24.7" fill="#000" text-anchor="start" letter-spacing="1.3">R-Square</text>
<text transform="translate(253.50,936.25) scale(0.95,1)" font-size="24.7" fill="#0000c0" text-anchor="start" letter-spacing="1.8">0,9945</text>
<text transform="translate(376.50,936.25) scale(0.95,1)" font-size="24.7" fill="#0000c0" text-anchor="start" letter-spacing="1.8">1,13x10<tspan font-size="18.5" dy="-8.8" dx="-0.8" letter-spacing="0">-8</tspan></text>
<text transform="translate(560.50,936.25) scale(0.95,1)" font-size="24.7" fill="#0000c0" text-anchor="start" letter-spacing="1.8">2,58x10<tspan font-size="18.5" dy="-8.8" dx="-0.8" letter-spacing="0">-7</tspan></text>
<text transform="translate(745.00,936.25) scale(0.95,1)" font-size="24.7" fill="#0000c0" text-anchor="start" letter-spacing="1.8">0,9945</text>
<text transform="translate(253.50,965.75) scale(0.95,1)" font-size="24.7" fill="#ff0000" text-anchor="start" letter-spacing="1.8">0,9894</text>
<text transform="translate(376.50,965.75) scale(0.95,1)" font-size="24.7" fill="#ff0000" text-anchor="start" letter-spacing="1.8">2,84x10<tspan font-size="18.5" dy="-8.8" dx="-0.8" letter-spacing="0">-8</tspan></text>
<text transform="translate(560.50,965.75) scale(0.95,1)" font-size="24.7" fill="#ff0000" text-anchor="start" letter-spacing="1.8">2,68x10<tspan font-size="18.5" dy="-8.8" dx="-0.8" letter-spacing="0">-7</tspan></text>
<text transform="translate(745.00,965.75) scale(0.95,1)" font-size="24.7" fill="#ff0000" text-anchor="start" letter-spacing="1.8">0,9947</text>
<line x1="722.25" y1="1376.40" x2="774.75" y2="1376.40" stroke="#0000c0" stroke-width="2.6" stroke-dasharray="4.6 7.3" stroke-linecap="round"/>
<path d="M740.55 1369.10L755.15 1383.70M740.55 1383.70L755.15 1369.10" stroke="#0000c0" stroke-width="4.4" fill="none"/>
<path d="M749.70 1404.95L756.70 1411.95L749.70 1418.95L742.70 1411.95Z" stroke="#ff0000" stroke-width="4.2" fill="none" stroke-linejoin="round"/>
<text transform="translate(811.00,1389.60) scale(0.95,1)" font-size="25.7" fill="#0000c0" text-anchor="start" >Calibration</text>
<text transform="translate(811.40,1423.00) scale(0.95,1)" font-size="25.7" fill="#ff0000" text-anchor="start" >Validation</text>
<text transform="translate(87.50,1388.00) rotate(-90) scale(0.95,1)" font-size="29.4" textLength="469.5" lengthAdjust="spacing">Predicted Y (BSA mol l<tspan font-size="21" dy="-13.4" letter-spacing="-1.2">-1</tspan><tspan dy="13.4" dx="1">, </tspan>Factor-2)</text>
<text transform="translate(366.00,1593.50) scale(0.95,1)" font-size="29.4" fill="#000" text-anchor="start" textLength="482.1" lengthAdjust="spacing">Reference Y (BSA mol l<tspan font-size="21" dy="-13.4" letter-spacing="-1.2">-1</tspan><tspan dy="13.4" dx="1">, </tspan>Factor-2)</text>
<text transform="translate(-3.20,811.10) scale(0.93,1)" font-size="66">(</text>
<text transform="translate(37.75,812.60) scale(1.087,1)" font-size="66" text-anchor="middle">c</text>
<text transform="translate(57.40,811.10) scale(0.93,1)" font-size="66">)</text>
<clipPath id="c1"><rect x="1338.20" y="1194.10" width="23.70" height="189.50"/></clipPath>
<g clip-path="url(#c1)"><rect x="1338.20" y="1194.10" width="23.70" height="189.50" fill="#ff0000"/>
<path d="M1343.10 1194.10h4.9v4.9h-4.9zM1352.90 1194.10h4.9v4.9h-4.9zM1362.70 1194.10h4.9v4.9h-4.9zM1338.20 1199.00h4.9v4.9h-4.9zM1348.00 1199.00h4.9v4.9h-4.9zM1357.80 1199.00h4.9v4.9h-4.9zM1343.10 1203.90h4.9v4.9h-4.9zM1352.90 1203.90h4.9v4.9h-4.9zM1362.70 1203.90h4.9v4.9h-4.9zM1338.20 1208.80h4.9v4.9h-4.9zM1348.00 1208.80h4.9v4.9h-4.9zM1357.80 1208.80h4.9v4.9h-4.9zM1343.10 1213.70h4.9v4.9h-4.9zM1352.90 1213.70h4.9v4.9h-4.9zM1362.70 1213.70h4.9v4.9h-4.9zM1338.20 1218.60h4.9v4.9h-4.9zM1348.00 1218.60h4.9v4.9h-4.9zM1357.80 1218.60h4.9v4.9h-4.9zM1343.10 1223.50h4.9v4.9h-4.9zM1352.90 1223.50h4.9v4.9h-4.9zM1362.70 1223.50h4.9v4.9h-4.9zM1338.20 1228.40h4.9v4.9h-4.9zM1348.00 1228.40h4.9v4.9h-4.9zM1357.80 1228.40h4.9v4.9h-4.9zM1343.10 1233.30h4.9v4.9h-4.9zM1352.90 1233.30h4.9v4.9h-4.9zM1362.70 1233.30h4.9v4.9h-4.9zM1338.20 1238.20h4.9v4.9h-4.9zM1348.00 1238.20h4.9v4.9h-4.9zM1357.80 1238.20h4.9v4.9h-4.9zM1343.10 1243.10h4.9v4.9h-4.9zM1352.90 1243.10h4.9v4.9h-4.9zM1362.70 1243.10h4.9v4.9h-4.9zM1338.20 1248.00h4.9v4.9h-4.9zM1348.00 1248.00h4.9v4.9h-4.9zM1357.80 1248.00h4.9v4.9h-4.9zM1343.10 1252.90h4.9v4.9h-4.9zM1352.90 1252.90h4.9v4.9h-4.9zM1362.70 1252.90h4.9v4.9h-4.9zM1338.20 1257.80h4.9v4.9h-4.9zM1348.00 1257.80h4.9v4.9h-4.9zM1357.80 1257.80h4.9v4.9h-4.9zM1343.10 1262.70h4.9v4.9h-4.9zM1352.90 1262.70h4.9v4.9h-4.9zM1362.70 1262.70h4.9v4.9h-4.9zM1338.20 1267.60h4.9v4.9h-4.9zM1348.00 1267.60h4.9v4.9h-4.9zM1357.80 1267.60h4.9v4.9h-4.9zM1343.10 1272.50h4.9v4.9h-4.9zM1352.90 1272.50h4.9v4.9h-4.9zM1362.70 1272.50h4.9v4.9h-4.9zM1338.20 1277.40h4.9v4.9h-4.9zM1348.00 1277.40h4.9v4.9h-4.9zM1357.80 1277.40h4.9v4.9h-4.9zM1343.10 1282.30h4.9v4.9h-4.9zM1352.90 1282.30h4.9v4.9h-4.9zM1362.70 1282.30h4.9v4.9h-4.9zM1338.20 1287.20h4.9v4.9h-4.9zM1348.00 1287.20h4.9v4.9h-4.9zM1357.80 1287.20h4.9v4.9h-4.9zM1343.10 1292.10h4.9v4.9h-4.9zM1352.90 1292.10h4.9v4.9h-4.9zM1362.70 1292.10h4.9v4.9h-4.9zM1338.20 1297.00h4.9v4.9h-4.9zM1348.00 1297.00h4.9v4.9h-4.9zM1357.80 1297.00h4.9v4.9h-4.9zM1343.10 1301.90h4.9v4.9h-4.9zM1352.90 1301.90h4.9v4.9h-4.9zM1362.70 1301.90h4.9v4.9h-4.9zM1338.20 1306.80h4.9v4.9h-4.9zM1348.00 1306.80h4.9v4.9h-4.9zM1357.80 1306.80h4.9v4.9h-4.9zM1343.10 1311.70h4.9v4.9h-4.9zM1352.90 1311.70h4.9v4.9h-4.9zM1362.70 1311.70h4.9v4.9h-4.9zM1338.20 1316.60h4.9v4.9h-4.9zM1348.00 1316.60h4.9v4.9h-4.9zM1357.80 1316.60h4.9v4.9h-4.9zM1343.10 1321.50h4.9v4.9h-4.9zM1352.90 1321.50h4.9v4.9h-4.9zM1362.70 1321.50h4.9v4.9h-4.9zM1338.20 1326.40h4.9v4.9h-4.9zM1348.00 1326.40h4.9v4.9h-4.9zM1357.80 1326.40h4.9v4.9h-4.9zM1343.10 1331.30h4.9v4.9h-4.9zM1352.90 1331.30h4.9v4.9h-4.9zM1362.70 1331.30h4.9v4.9h-4.9zM1338.20 1336.20h4.9v4.9h-4.9zM1348.00 1336.20h4.9v4.9h-4.9zM1357.80 1336.20h4.9v4.9h-4.9zM1343.10 1341.10h4.9v4.9h-4.9zM1352.90 1341.10h4.9v4.9h-4.9zM1362.70 1341.10h4.9v4.9h-4.9zM1338.20 1346.00h4.9v4.9h-4.9zM1348.00 1346.00h4.9v4.9h-4.9zM1357.80 1346.00h4.9v4.9h-4.9zM1343.10 1350.90h4.9v4.9h-4.9zM1352.90 1350.90h4.9v4.9h-4.9zM1362.70 1350.90h4.9v4.9h-4.9zM1338.20 1355.80h4.9v4.9h-4.9zM1348.00 1355.80h4.9v4.9h-4.9zM1357.80 1355.80h4.9v4.9h-4.9zM1343.10 1360.70h4.9v4.9h-4.9zM1352.90 1360.70h4.9v4.9h-4.9zM1362.70 1360.70h4.9v4.9h-4.9zM1338.20 1365.60h4.9v4.9h-4.9zM1348.00 1365.60h4.9v4.9h-4.9zM1357.80 1365.60h4.9v4.9h-4.9zM1343.10 1370.50h4.9v4.9h-4.9zM1352.90 1370.50h4.9v4.9h-4.9zM1362.70 1370.50h4.9v4.9h-4.9zM1338.20 1375.40h4.9v4.9h-4.9zM1348.00 1375.40h4.9v4.9h-4.9zM1357.80 1375.40h4.9v4.9h-4.9zM1343.10 1380.30h4.9v4.9h-4.9zM1352.90 1380.30h4.9v4.9h-4.9zM1362.70 1380.30h4.9v4.9h-4.9zM1338.20 1385.20h4.9v4.9h-4.9zM1348.00 1385.20h4.9v4.9h-4.9zM1357.80 1385.20h4.9v4.9h-4.9z" fill="#000"/></g>
<clipPath id="c2"><rect x="1443.93" y="1372.50" width="23.70" height="11.10"/></clipPath>
<g clip-path="url(#c2)"><rect x="1443.93" y="1372.50" width="23.70" height="11.10" fill="#ff0000"/>
<path d="M1448.83 1372.50h4.9v4.9h-4.9zM1458.63 1372.50h4.9v4.9h-4.9zM1468.43 1372.50h4.9v4.9h-4.9zM1443.93 1377.40h4.9v4.9h-4.9zM1453.73 1377.40h4.9v4.9h-4.9zM1463.53 1377.40h4.9v4.9h-4.9zM1448.83 1382.30h4.9v4.9h-4.9zM1458.63 1382.30h4.9v4.9h-4.9zM1468.43 1382.30h4.9v4.9h-4.9zM1443.93 1387.20h4.9v4.9h-4.9zM1453.73 1387.20h4.9v4.9h-4.9zM1463.53 1387.20h4.9v4.9h-4.9z" fill="#000"/></g>
<clipPath id="c3"><rect x="1549.66" y="1383.60" width="23.70" height="4.00"/></clipPath>
<g clip-path="url(#c3)"><rect x="1549.66" y="1383.60" width="23.70" height="4.00" fill="#ff0000"/>
<path d="M1554.56 1383.60h4.9v4.9h-4.9zM1564.36 1383.60h4.9v4.9h-4.9zM1574.16 1383.60h4.9v4.9h-4.9zM1549.66 1388.50h4.9v4.9h-4.9zM1559.46 1388.50h4.9v4.9h-4.9zM1569.26 1388.50h4.9v4.9h-4.9z" fill="#000"/></g>
<clipPath id="c4"><rect x="1655.39" y="1383.60" width="23.70" height="2.70"/></clipPath>
<g clip-path="url(#c4)"><rect x="1655.39" y="1383.60" width="23.70" height="2.70" fill="#ff0000"/>
<path d="M1660.29 1383.60h4.9v4.9h-4.9zM1670.09 1383.60h4.9v4.9h-4.9zM1679.89 1383.60h4.9v4.9h-4.9zM1655.39 1388.50h4.9v4.9h-4.9zM1665.19 1388.50h4.9v4.9h-4.9zM1674.99 1388.50h4.9v4.9h-4.9z" fill="#000"/></g>
<clipPath id="c5"><rect x="1364.90" y="1383.60" width="23.70" height="23.40"/></clipPath>
<g clip-path="url(#c5)"><rect x="1364.90" y="1383.60" width="23.70" height="23.40" fill="#00c000"/>
<path d="M1364.90 1334.20L1388.60 1353.40L1388.60 1362.10L1364.90 1342.90ZM1364.90 1358.60L1388.60 1377.80L1388.60 1386.50L1364.90 1367.30ZM1364.90 1383.00L1388.60 1402.20L1388.60 1410.90L1364.90 1391.70ZM1364.90 1407.40L1388.60 1426.60L1388.60 1435.30L1364.90 1416.10Z" fill="#848282"/></g>
<clipPath id="c6"><rect x="1470.63" y="1228.00" width="23.70" height="155.60"/></clipPath>
<g clip-path="url(#c6)"><rect x="1470.63" y="1228.00" width="23.70" height="155.60" fill="#00c000"/>
<path d="M1470.63 1185.20L1494.33 1204.40L1494.33 1213.10L1470.63 1193.90ZM1470.63 1209.60L1494.33 1228.80L1494.33 1237.50L1470.63 1218.30ZM1470.63 1234.00L1494.33 1253.20L1494.33 1261.90L1470.63 1242.70ZM1470.63 1258.40L1494.33 1277.60L1494.33 1286.30L1470.63 1267.10ZM1470.63 1282.80L1494.33 1302.00L1494.33 1310.70L1470.63 1291.50ZM1470.63 1307.20L1494.33 1326.40L1494.33 1335.10L1470.63 1315.90ZM1470.63 1331.60L1494.33 1350.80L1494.33 1359.50L1470.63 1340.30ZM1470.63 1356.00L1494.33 1375.20L1494.33 1383.90L1470.63 1364.70ZM1470.63 1380.40L1494.33 1399.60L1494.33 1408.30L1470.63 1389.10ZM1470.63 1404.80L1494.33 1424.00L1494.33 1432.70L1470.63 1413.50Z" fill="#848282"/></g>
<clipPath id="c7"><rect x="1576.36" y="1383.60" width="23.70" height="15.90"/></clipPath>
<g clip-path="url(#c7)"><rect x="1576.36" y="1383.60" width="23.70" height="15.90" fill="#00c000"/>
<path d="M1576.36 1346.60L1600.06 1365.80L1600.06 1374.50L1576.36 1355.30ZM1576.36 1371.00L1600.06 1390.20L1600.06 1398.90L1576.36 1379.70ZM1576.36 1395.40L1600.06 1414.60L1600.06 1423.30L1576.36 1404.10ZM1576.36 1419.80L1600.06 1439.00L1600.06 1447.70L1576.36 1428.50Z" fill="#848282"/></g>
<clipPath id="c8"><rect x="1682.09" y="933.75" width="23.70" height="449.85"/></clipPath>
<g clip-path="url(#c8)"><rect x="1682.09" y="933.75" width="23.70" height="449.85" fill="#00c000"/>
<path d="M1682.09 891.20L1705.79 910.40L1705.79 919.10L1682.09 899.90ZM1682.09 915.60L1705.79 934.80L1705.79 943.50L1682.09 924.30ZM1682.09 940.00L1705.79 959.20L1705.79 967.90L1682.09 948.70ZM1682.09 964.40L1705.79 983.60L1705.79 992.30L1682.09 973.10ZM1682.09 988.80L1705.79 1008.00L1705.79 1016.70L1682.09 997.50ZM1682.09 1013.20L1705.79 1032.40L1705.79 1041.10L1682.09 1021.90ZM1682.09 1037.60L1705.79 1056.80L1705.79 1065.50L1682.09 1046.30ZM1682.09 1062.00L1705.79 1081.20L1705.79 1089.90L1682.09 1070.70ZM1682.09 1086.40L1705.79 1105.60L1705.79 1114.30L1682.09 1095.10ZM1682.09 1110.80L1705.79 1130.00L1705.79 1138.70L1682.09 1119.50ZM1682.09 1135.20L1705.79 1154.40L1705.79 1163.10L1682.09 1143.90ZM1682.09 1159.60L1705.79 1178.80L1705.79 1187.50L1682.09 1168.30ZM1682.09 1184.00L1705.79 1203.20L1705.79 1211.90L1682.09 1192.70ZM1682.09 1208.40L1705.79 1227.60L1705.79 1236.30L1682.09 1217.10ZM1682.09 1232.80L1705.79 1252.00L1705.79 1260.70L1682.09 1241.50ZM1682.09 1257.20L1705.79 1276.40L1705.79 1285.10L1682.09 1265.90ZM1682.09 1281.60L1705.79 1300.80L1705.79 1309.50L1682.09 1290.30ZM1682.09 1306.00L1705.79 1325.20L1705.79 1333.90L1682.09 1314.70ZM1682.09 1330.40L1705.79 1349.60L1705.79 1358.30L1682.09 1339.10ZM1682.09 1354.80L1705.79 1374.00L1705.79 1382.70L1682.09 1363.50ZM1682.09 1379.20L1705.79 1398.40L1705.79 1407.10L1682.09 1387.90ZM1682.09 1403.60L1705.79 1422.80L1705.79 1431.50L1682.09 1412.30Z" fill="#848282"/></g>
<clipPath id="c9"><rect x="1787.82" y="1285.10" width="23.70" height="98.50"/></clipPath>
<g clip-path="url(#c9)"><rect x="1787.82" y="1285.10" width="23.70" height="98.50" fill="#00c000"/>
<path d="M1787.82 1236.30L1811.52 1255.50L1811.52 1264.20L1787.82 1245.00ZM1787.82 1260.70L1811.52 1279.90L1811.52 1288.60L1787.82 1269.40ZM1787.82 1285.10L1811.52 1304.30L1811.52 1313.00L1787.82 1293.80ZM1787.82 1309.50L1811.52 1328.70L1811.52 1337.40L1787.82 1318.20ZM1787.82 1333.90L1811.52 1353.10L1811.52 1361.80L1787.82 1342.60ZM1787.82 1358.30L1811.52 1377.50L1811.52 1386.20L1787.82 1367.00ZM1787.82 1382.70L1811.52 1401.90L1811.52 1410.60L1787.82 1391.40ZM1787.82 1407.10L1811.52 1426.30L1811.52 1435.00L1787.82 1415.80Z" fill="#848282"/></g>
<clipPath id="c10"><rect x="1893.55" y="1383.60" width="23.70" height="87.15"/></clipPath>
<g clip-path="url(#c10)"><rect x="1893.55" y="1383.60" width="23.70" height="87.15" fill="#00c000"/>
<path d="M1893.55 1346.60L1917.25 1365.80L1917.25 1374.50L1893.55 1355.30ZM1893.55 1371.00L1917.25 1390.20L1917.25 1398.90L1893.55 1379.70ZM1893.55 1395.40L1917.25 1414.60L1917.25 1423.30L1893.55 1404.10ZM1893.55 1419.80L1917.25 1439.00L1917.25 1447.70L1893.55 1428.50ZM1893.55 1444.20L1917.25 1463.40L1917.25 1472.10L1893.55 1452.90ZM1893.55 1468.60L1917.25 1487.80L1917.25 1496.50L1893.55 1477.30ZM1893.55 1493.00L1917.25 1512.20L1917.25 1520.90L1893.55 1501.70Z" fill="#848282"/></g>
<clipPath id="c11"><rect x="1999.28" y="1378.25" width="23.70" height="5.35"/></clipPath>
<g clip-path="url(#c11)"><rect x="1999.28" y="1378.25" width="23.70" height="5.35" fill="#00c000"/>
<path d="M1999.28 1339.60L2022.98 1358.80L2022.98 1367.50L1999.28 1348.30ZM1999.28 1364.00L2022.98 1383.20L2022.98 1391.90L1999.28 1372.70ZM1999.28 1388.40L2022.98 1407.60L2022.98 1416.30L1999.28 1397.10Z" fill="#848282"/></g>
<clipPath id="c12"><rect x="1391.60" y="1383.60" width="23.70" height="3.90"/></clipPath>
<g clip-path="url(#c12)"><rect x="1391.60" y="1383.60" width="23.70" height="3.90" fill="#0000ff"/>
<path d="M1401.35 1383.60h9.75v9.75h-9.75zM1420.85 1383.60h9.75v9.75h-9.75zM1391.60 1393.35h9.75v9.75h-9.75zM1411.10 1393.35h9.75v9.75h-9.75z" fill="#a2a1a6"/>
</g>
<clipPath id="c13"><rect x="1603.06" y="1348.25" width="23.70" height="35.35"/></clipPath>
<g clip-path="url(#c13)"><rect x="1603.06" y="1348.25" width="23.70" height="35.35" fill="#0000ff"/>
<path d="M1612.81 1348.25h9.75v9.75h-9.75zM1632.31 1348.25h9.75v9.75h-9.75zM1603.06 1358.00h9.75v9.75h-9.75zM1622.56 1358.00h9.75v9.75h-9.75zM1612.81 1367.75h9.75v9.75h-9.75zM1632.31 1367.75h9.75v9.75h-9.75zM1603.06 1377.50h9.75v9.75h-9.75zM1622.56 1377.50h9.75v9.75h-9.75zM1612.81 1387.25h9.75v9.75h-9.75zM1632.31 1387.25h9.75v9.75h-9.75z" fill="#a2a1a6"/>
</g>
<clipPath id="c14"><rect x="1708.79" y="1383.60" width="23.70" height="1.90"/></clipPath>
<g clip-path="url(#c14)"><rect x="1708.79" y="1383.60" width="23.70" height="1.90" fill="#0000ff"/>
<path d="M1718.54 1383.60h9.75v9.75h-9.75zM1738.04 1383.60h9.75v9.75h-9.75zM1708.79 1393.35h9.75v9.75h-9.75zM1728.29 1393.35h9.75v9.75h-9.75z" fill="#a2a1a6"/>
</g>
<clipPath id="c15"><rect x="1814.52" y="1333.25" width="23.70" height="50.35"/></clipPath>
<g clip-path="url(#c15)"><rect x="1814.52" y="1333.25" width="23.70" height="50.35" fill="#0000ff"/>
<path d="M1824.27 1333.25h9.75v9.75h-9.75zM1843.77 1333.25h9.75v9.75h-9.75zM1814.52 1343.00h9.75v9.75h-9.75zM1834.02 1343.00h9.75v9.75h-9.75zM1824.27 1352.75h9.75v9.75h-9.75zM1843.77 1352.75h9.75v9.75h-9.75zM1814.52 1362.50h9.75v9.75h-9.75zM1834.02 1362.50h9.75v9.75h-9.75zM1824.27 1372.25h9.75v9.75h-9.75zM1843.77 1372.25h9.75v9.75h-9.75zM1814.52 1382.00h9.75v9.75h-9.75zM1834.02 1382.00h9.75v9.75h-9.75zM1824.27 1391.75h9.75v9.75h-9.75zM1843.77 1391.75h9.75v9.75h-9.75z" fill="#a2a1a6"/>
</g>
<clipPath id="c16"><rect x="1920.25" y="1334.25" width="23.70" height="49.35"/></clipPath>
<g clip-path="url(#c16)"><rect x="1920.25" y="1334.25" width="23.70" height="49.35" fill="#0000ff"/>
<path d="M1930.00 1334.25h9.75v9.75h-9.75zM1949.50 1334.25h9.75v9.75h-9.75zM1920.25 1344.00h9.75v9.75h-9.75zM1939.75 1344.00h9.75v9.75h-9.75zM1930.00 1353.75h9.75v9.75h-9.75zM1949.50 1353.75h9.75v9.75h-9.75zM1920.25 1363.50h9.75v9.75h-9.75zM1939.75 1363.50h9.75v9.75h-9.75zM1930.00 1373.25h9.75v9.75h-9.75zM1949.50 1373.25h9.75v9.75h-9.75zM1920.25 1383.00h9.75v9.75h-9.75zM1939.75 1383.00h9.75v9.75h-9.75zM1930.00 1392.75h9.75v9.75h-9.75zM1949.50 1392.75h9.75v9.75h-9.75z" fill="#a2a1a6"/>
</g>
<line x1="1324.20" y1="899.00" x2="1324.20" y2="1480.80" stroke="#000" stroke-width="2.6" />
<line x1="1322.90" y1="1479.50" x2="2062.25" y2="1479.50" stroke="#000" stroke-width="2.6" />
<line x1="1310.20" y1="900.00" x2="2062.25" y2="900.00" stroke="#000" stroke-width="2.2" />
<line x1="2061.25" y1="900.00" x2="2061.25" y2="1479.50" stroke="#000" stroke-width="2.2" />
<line x1="1310.20" y1="1383.60" x2="2061.25" y2="1383.60" stroke="#000" stroke-width="2.6" />
<line x1="1310.20" y1="900.00" x2="1324.20" y2="900.00" stroke="#000" stroke-width="2.6" />
<line x1="1316.70" y1="924.15" x2="1324.20" y2="924.15" stroke="#000" stroke-width="2.6" />
<line x1="1310.20" y1="948.30" x2="1324.20" y2="948.30" stroke="#000" stroke-width="2.6" />
<line x1="1316.70" y1="972.45" x2="1324.20" y2="972.45" stroke="#000" stroke-width="2.6" />
<line x1="1310.20" y1="996.60" x2="1324.20" y2="996.60" stroke="#000" stroke-width="2.6" />
<line x1="1316.70" y1="1020.75" x2="1324.20" y2="1020.75" stroke="#000" stroke-width="2.6" />
<line x1="1310.20" y1="1044.90" x2="1324.20" y2="1044.90" stroke="#000" stroke-width="2.6" />
<line x1="1316.70" y1="1069.05" x2="1324.20" y2="1069.05" stroke="#000" stroke-width="2.6" />
<line x1="1310.20" y1="1093.20" x2="1324.20" y2="1093.20" stroke="#000" stroke-width="2.6" />
<line x1="1316.70" y1="1117.35" x2="1324.20" y2="1117.35" stroke="#000" stroke-width="2.6" />
<line x1="1310.20" y1="1141.50" x2="1324.20" y2="1141.50" stroke="#000" stroke-width="2.6" />
<line x1="1316.70" y1="1165.65" x2="1324.20" y2="1165.65" stroke="#000" stroke-width="2.6" />
<line x1="1310.20" y1="1189.80" x2="1324.20" y2="1189.80" stroke="#000" stroke-width="2.6" />
<line x1="1316.70" y1="1213.95" x2="1324.20" y2="1213.95" stroke="#000" stroke-width="2.6" />
<line x1="1310.20" y1="1238.10" x2="1324.20" y2="1238.10" stroke="#000" stroke-width="2.6" />
<line x1="1316.70" y1="1262.25" x2="1324.20" y2="1262.25" stroke="#000" stroke-width="2.6" />
<line x1="1310.20" y1="1286.40" x2="1324.20" y2="1286.40" stroke="#000" stroke-width="2.6" />
<line x1="1316.70" y1="1310.55" x2="1324.20" y2="1310.55" stroke="#000" stroke-width="2.6" />
<line x1="1310.20" y1="1334.70" x2="1324.20" y2="1334.70" stroke="#000" stroke-width="2.6" />
<line x1="1316.70" y1="1358.85" x2="1324.20" y2="1358.85" stroke="#000" stroke-width="2.6" />
<line x1="1310.20" y1="1383.00" x2="1324.20" y2="1383.00" stroke="#000" stroke-width="2.6" />
<line x1="1316.70" y1="1407.15" x2="1324.20" y2="1407.15" stroke="#000" stroke-width="2.6" />
<line x1="1310.20" y1="1431.30" x2="1324.20" y2="1431.30" stroke="#000" stroke-width="2.6" />
<line x1="1316.70" y1="1455.45" x2="1324.20" y2="1455.45" stroke="#000" stroke-width="2.6" />
<line x1="1310.20" y1="1479.60" x2="1324.20" y2="1479.60" stroke="#000" stroke-width="2.6" />
<line x1="1376.60" y1="1479.50" x2="1376.60" y2="1493.50" stroke="#000" stroke-width="2.6" />
<line x1="1482.33" y1="1479.50" x2="1482.33" y2="1493.50" stroke="#000" stroke-width="2.6" />
<line x1="1588.06" y1="1479.50" x2="1588.06" y2="1493.50" stroke="#000" stroke-width="2.6" />
<line x1="1693.79" y1="1479.50" x2="1693.79" y2="1493.50" stroke="#000" stroke-width="2.6" />
<line x1="1799.52" y1="1479.50" x2="1799.52" y2="1493.50" stroke="#000" stroke-width="2.6" />
<line x1="1905.25" y1="1479.50" x2="1905.25" y2="1493.50" stroke="#000" stroke-width="2.6" />
<line x1="2010.98" y1="1479.50" x2="2010.98" y2="1493.50" stroke="#000" stroke-width="2.6" />
<text transform="translate(1301.85,908.10) scale(0.95,1)" font-size="29.4" text-anchor="end"><tspan>2.5</tspan><tspan font-weight="normal" font-size="30" dx="-0.6" dy="2.6">×</tspan><tspan dx="-0.6" dy="-2.6">10</tspan><tspan font-size="17.3" dy="-9.5" dx="2.9">-09</tspan></text>
<text transform="translate(1301.85,956.40) scale(0.95,1)" font-size="29.4" text-anchor="end"><tspan>2.2</tspan><tspan font-weight="normal" font-size="30" dx="-0.6" dy="2.6">×</tspan><tspan dx="-0.6" dy="-2.6">10</tspan><tspan font-size="17.3" dy="-9.5" dx="2.9">-09</tspan></text>
<text transform="translate(1301.85,1004.70) scale(0.95,1)" font-size="29.4" text-anchor="end"><tspan>2.0</tspan><tspan font-weight="normal" font-size="30" dx="-0.6" dy="2.6">×</tspan><tspan dx="-0.6" dy="-2.6">10</tspan><tspan font-size="17.3" dy="-9.5" dx="2.9">-09</tspan></text>
<text transform="translate(1301.85,1053.00) scale(0.95,1)" font-size="29.4" text-anchor="end"><tspan>1.8</tspan><tspan font-weight="normal" font-size="30" dx="-0.6" dy="2.6">×</tspan><tspan dx="-0.6" dy="-2.6">10</tspan><tspan font-size="17.3" dy="-9.5" dx="2.9">-09</tspan></text>
<text transform="translate(1301.85,1101.30) scale(0.95,1)" font-size="29.4" text-anchor="end"><tspan>1.5</tspan><tspan font-weight="normal" font-size="30" dx="-0.6" dy="2.6">×</tspan><tspan dx="-0.6" dy="-2.6">10</tspan><tspan font-size="17.3" dy="-9.5" dx="2.9">-09</tspan></text>
<text transform="translate(1301.85,1149.60) scale(0.95,1)" font-size="29.4" text-anchor="end"><tspan>1.2</tspan><tspan font-weight="normal" font-size="30" dx="-0.6" dy="2.6">×</tspan><tspan dx="-0.6" dy="-2.6">10</tspan><tspan font-size="17.3" dy="-9.5" dx="2.9">-09</tspan></text>
<text transform="translate(1301.85,1197.90) scale(0.95,1)" font-size="29.4" text-anchor="end"><tspan>1.0</tspan><tspan font-weight="normal" font-size="30" dx="-0.6" dy="2.6">×</tspan><tspan dx="-0.6" dy="-2.6">10</tspan><tspan font-size="17.3" dy="-9.5" dx="2.9">-09</tspan></text>
<text transform="translate(1301.85,1246.20) scale(0.95,1)" font-size="29.4" text-anchor="end"><tspan>7.5</tspan><tspan font-weight="normal" font-size="30" dx="-0.6" dy="2.6">×</tspan><tspan dx="-0.6" dy="-2.6">10</tspan><tspan font-size="17.3" dy="-9.5" dx="2.9">-10</tspan></text>
<text transform="translate(1301.85,1294.50) scale(0.95,1)" font-size="29.4" text-anchor="end"><tspan>5.0</tspan><tspan font-weight="normal" font-size="30" dx="-0.6" dy="2.6">×</tspan><tspan dx="-0.6" dy="-2.6">10</tspan><tspan font-size="17.3" dy="-9.5" dx="2.9">-10</tspan></text>
<text transform="translate(1301.85,1342.80) scale(0.95,1)" font-size="29.4" text-anchor="end"><tspan>2.5</tspan><tspan font-weight="normal" font-size="30" dx="-0.6" dy="2.6">×</tspan><tspan dx="-0.6" dy="-2.6">10</tspan><tspan font-size="17.3" dy="-9.5" dx="2.9">-10</tspan></text>
<text transform="translate(1302.35,1391.10) scale(0.95,1)" font-size="29.4" text-anchor="end"><tspan>0</tspan></text>
<text transform="translate(1301.85,1439.40) scale(0.95,1)" font-size="29.4" text-anchor="end"><tspan>-2.5</tspan><tspan font-weight="normal" font-size="30" dx="-0.6" dy="2.6">×</tspan><tspan dx="-0.6" dy="-2.6">10</tspan><tspan font-size="17.3" dy="-9.5" dx="2.9">-10</tspan></text>
<text transform="translate(1301.85,1487.70) scale(0.95,1)" font-size="29.4" text-anchor="end"><tspan>-5.0</tspan><tspan font-weight="normal" font-size="30" dx="-0.6" dy="2.6">×</tspan><tspan dx="-0.6" dy="-2.6">10</tspan><tspan font-size="17.3" dy="-9.5" dx="2.9">-10</tspan></text>
<text transform="translate(1382.25,1515.90) rotate(-45) scale(0.925,1)" font-size="29.4" text-anchor="end">280/340</text>
<text transform="translate(1487.98,1515.90) rotate(-45) scale(0.925,1)" font-size="29.4" text-anchor="end">280/448</text>
<text transform="translate(1593.71,1515.90) rotate(-45) scale(0.925,1)" font-size="29.4" text-anchor="end">280/525</text>
<text transform="translate(1699.44,1515.90) rotate(-45) scale(0.925,1)" font-size="29.4" text-anchor="end">365/448</text>
<text transform="translate(1805.17,1515.90) rotate(-45) scale(0.925,1)" font-size="29.4" text-anchor="end">365/525</text>
<text transform="translate(1910.90,1515.90) rotate(-45) scale(0.925,1)" font-size="29.4" text-anchor="end">450/525</text>
<text transform="translate(2016.63,1515.90) rotate(-45) scale(0.925,1)" font-size="29.4" text-anchor="end">850/ s.l.</text>
<text transform="translate(1073.60,1339.90) rotate(-90) scale(0.95,1)" font-size="29.4">BSA</text>
<text transform="translate(1073.60,1271.40) rotate(-90) scale(0.95,1)" font-size="29.4">regression</text>
<text transform="translate(1073.60,1120.60) rotate(-90) scale(0.95,1)" font-size="29.4">coefficients</text>
<text transform="translate(1073.60,953.00) rotate(-90) scale(0.95,1)" font-size="29.4">()</text>
<text transform="translate(1123.30,1340.90) rotate(-90) scale(0.95,1)" font-size="29.4" textLength="77.3" lengthAdjust="spacing">NADH</text>
<text transform="translate(1123.30,1260.20) rotate(-90) scale(0.95,1)" font-size="29.4" textLength="46.6" lengthAdjust="spacing">x10</text>
<text transform="translate(1111.70,1215.70) rotate(-90) scale(0.78,1)" font-size="22">-1</text>
<text transform="translate(1123.30,1195.75) rotate(-90) scale(0.95,1)" font-size="29.4">regression</text>
<text transform="translate(1123.30,1039.30) rotate(-90) scale(0.95,1)" font-size="29.4">coefficients</text>
<text transform="translate(1123.30,871.40) rotate(-90) scale(0.95,1)" font-size="29.4">()</text>
<text transform="translate(1171.20,1341.80) rotate(-90) scale(0.95,1)" font-size="29.4">riboflavin</text>
<text transform="translate(1171.20,1205.75) rotate(-90) scale(0.95,1)" font-size="29.4">regression</text>
<text transform="translate(1171.20,1054.10) rotate(-90) scale(0.95,1)" font-size="29.4">coefficients</text>
<text transform="translate(1171.20,885.40) rotate(-90) scale(0.95,1)" font-size="29.4">()</text>
<clipPath id="c17"><rect x="1060.70" y="1370.00" width="10.30" height="51.30"/></clipPath>
<g clip-path="url(#c17)"><rect x="1060.70" y="1370.00" width="10.30" height="51.30" fill="#ff0000"/>
<path d="M1065.60 1370.00h4.9v4.9h-4.9zM1075.40 1370.00h4.9v4.9h-4.9zM1060.70 1374.90h4.9v4.9h-4.9zM1070.50 1374.90h4.9v4.9h-4.9zM1065.60 1379.80h4.9v4.9h-4.9zM1075.40 1379.80h4.9v4.9h-4.9zM1060.70 1384.70h4.9v4.9h-4.9zM1070.50 1384.70h4.9v4.9h-4.9zM1065.60 1389.60h4.9v4.9h-4.9zM1075.40 1389.60h4.9v4.9h-4.9zM1060.70 1394.50h4.9v4.9h-4.9zM1070.50 1394.50h4.9v4.9h-4.9zM1065.60 1399.40h4.9v4.9h-4.9zM1075.40 1399.40h4.9v4.9h-4.9zM1060.70 1404.30h4.9v4.9h-4.9zM1070.50 1404.30h4.9v4.9h-4.9zM1065.60 1409.20h4.9v4.9h-4.9zM1075.40 1409.20h4.9v4.9h-4.9zM1060.70 1414.10h4.9v4.9h-4.9zM1070.50 1414.10h4.9v4.9h-4.9zM1065.60 1419.00h4.9v4.9h-4.9zM1075.40 1419.00h4.9v4.9h-4.9zM1060.70 1423.90h4.9v4.9h-4.9zM1070.50 1423.90h4.9v4.9h-4.9z" fill="#000"/></g>
<clipPath id="c18"><rect x="1107.70" y="1370.00" width="10.60" height="52.00"/></clipPath>
<g clip-path="url(#c18)"><rect x="1107.70" y="1370.00" width="10.60" height="52.00" fill="#00c000"/>
<path d="M1107.70 1349.60L1118.30 1358.19L1118.30 1366.89L1107.70 1358.30ZM1107.70 1374.00L1118.30 1382.59L1118.30 1391.29L1107.70 1382.70ZM1107.70 1398.40L1118.30 1406.99L1118.30 1415.69L1107.70 1407.10ZM1107.70 1422.80L1118.30 1431.39L1118.30 1440.09L1107.70 1431.50Z" fill="#848282"/></g>
<clipPath id="c19"><rect x="1158.20" y="1371.00" width="10.10" height="52.00"/></clipPath>
<g clip-path="url(#c19)"><rect x="1158.20" y="1371.00" width="10.10" height="52.00" fill="#0000ff"/>
<path d="M1167.95 1371.00h9.75v9.75h-9.75zM1158.20 1380.75h9.75v9.75h-9.75zM1177.70 1380.75h9.75v9.75h-9.75zM1167.95 1390.50h9.75v9.75h-9.75zM1158.20 1400.25h9.75v9.75h-9.75zM1177.70 1400.25h9.75v9.75h-9.75zM1167.95 1410.00h9.75v9.75h-9.75zM1158.20 1419.75h9.75v9.75h-9.75zM1177.70 1419.75h9.75v9.75h-9.75zM1167.95 1429.50h9.75v9.75h-9.75z" fill="#a2a1a6"/>
</g>
<text transform="translate(1096.60,810.70) scale(0.93,1)" font-size="66">(</text>
<text transform="translate(1139.30,812.20) scale(1.046,1)" font-size="66" text-anchor="middle">d</text>
<text transform="translate(1161.20,810.70) scale(0.93,1)" font-size="66">)</text>
</svg></body></html>
